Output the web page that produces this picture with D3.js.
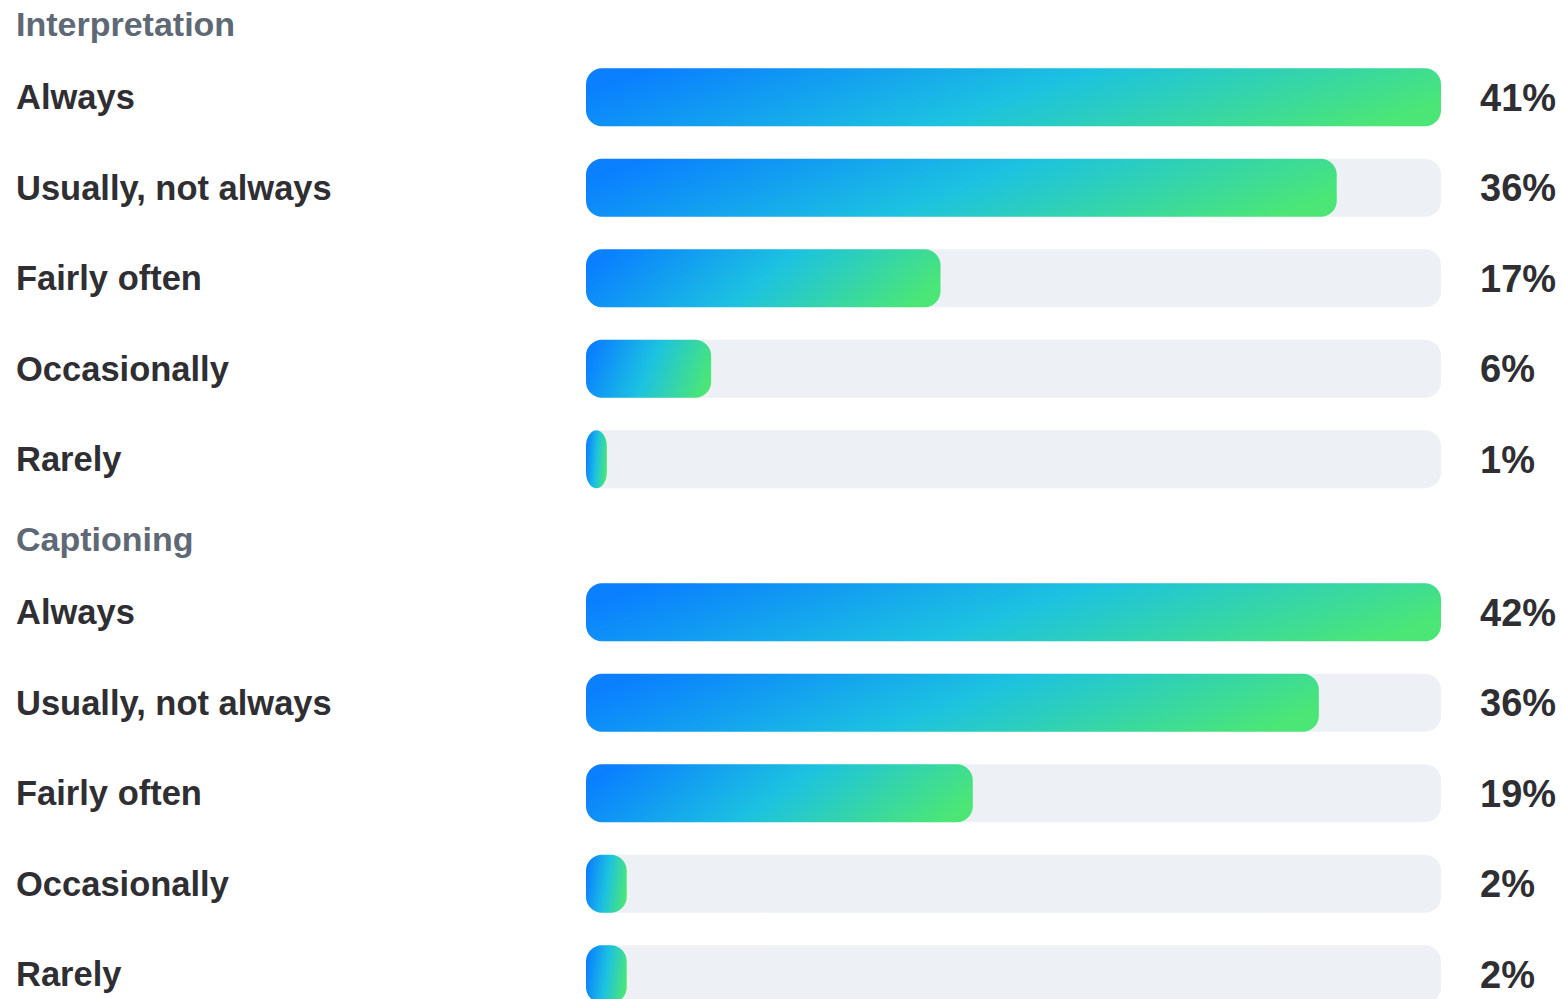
<!DOCTYPE html>
<html><head><meta charset="utf-8">
<script src="https://cdn.jsdelivr.net/npm/d3@7"></script>
<style>body{margin:0;background:#fff;}svg{display:block;}</style>
</head><body>
<svg id="c" width="1564" height="999"></svg>
<script>
const groups = ["Interpretation", "Captioning"];
const categories = ["Always", "Usually, not always", "Fairly often", "Occasionally", "Rarely"];
const interpretationValues = [41, 36, 17, 6, 1];
const captioningValues = [42, 36, 19, 2, 2];
const seriesValues = [interpretationValues, captioningValues];

const svg = d3.select("#c");
const defs = svg.append("defs");
const grad = defs.append("linearGradient").attr("id", "g")
  .attr("x1", "0").attr("y1", "0.4").attr("x2", "1").attr("y2", "0.6");
grad.append("stop").attr("offset", "0%").attr("stop-color", "#0a80ff");
grad.append("stop").attr("offset", "50%").attr("stop-color", "#1cc2e0");
grad.append("stop").attr("offset", "100%").attr("stop-color", "#4be676");

const groupTop = [0, 515];
const barH = 58;
const rowStep = 90.5;
const font = "Liberation Sans, Arial, sans-serif";

groups.forEach((gname, gi) => {
  const vals = seriesValues[gi];
  const x = d3.scaleLinear().domain([0, d3.max(vals)]).range([586, 1441]);
  const y = d3.scaleBand().domain(categories)
    .range([groupTop[gi] + 52, groupTop[gi] + 52 + rowStep * categories.length])
    .paddingInner((rowStep - barH) / rowStep).paddingOuter((rowStep - barH) / rowStep / 2);
  const g = svg.append("g");
  g.append("text").attr("x", 16).attr("y", groupTop[gi] + 36)
    .attr("font-family", font).attr("font-weight", "bold")
    .attr("font-size", 34).attr("fill", "#5e6975").text(gname);
  const rows = g.selectAll("g.row").data(categories.map((c, i) => ({c, v: vals[i]})))
    .join("g").attr("class", "row");
  rows.append("rect").attr("x", x(0)).attr("y", d => y(d.c))
    .attr("width", x.range()[1] - x(0)).attr("height", y.bandwidth())
    .attr("rx", 16).attr("fill", "#edf0f5");
  rows.append("rect").attr("x", x(0)).attr("y", d => y(d.c))
    .attr("width", d => x(d.v) - x(0)).attr("height", y.bandwidth())
    .attr("rx", 16).attr("fill", "url(#g)");
  rows.append("text").attr("x", 16).attr("y", d => y(d.c) + y.bandwidth() / 2)
    .attr("dy", "0.35em")
    .attr("font-family", font).attr("font-weight", "bold")
    .attr("font-size", 34.5).attr("fill", "#2f2f33").text(d => d.c);
  rows.append("text").attr("x", 1480).attr("y", d => y(d.c) + y.bandwidth() / 2)
    .attr("dy", "0.35em")
    .attr("font-family", font).attr("font-weight", "bold")
    .attr("font-size", 38).attr("fill", "#2f2f33").text(d => d.v + "%");
});
</script>
</body></html>
